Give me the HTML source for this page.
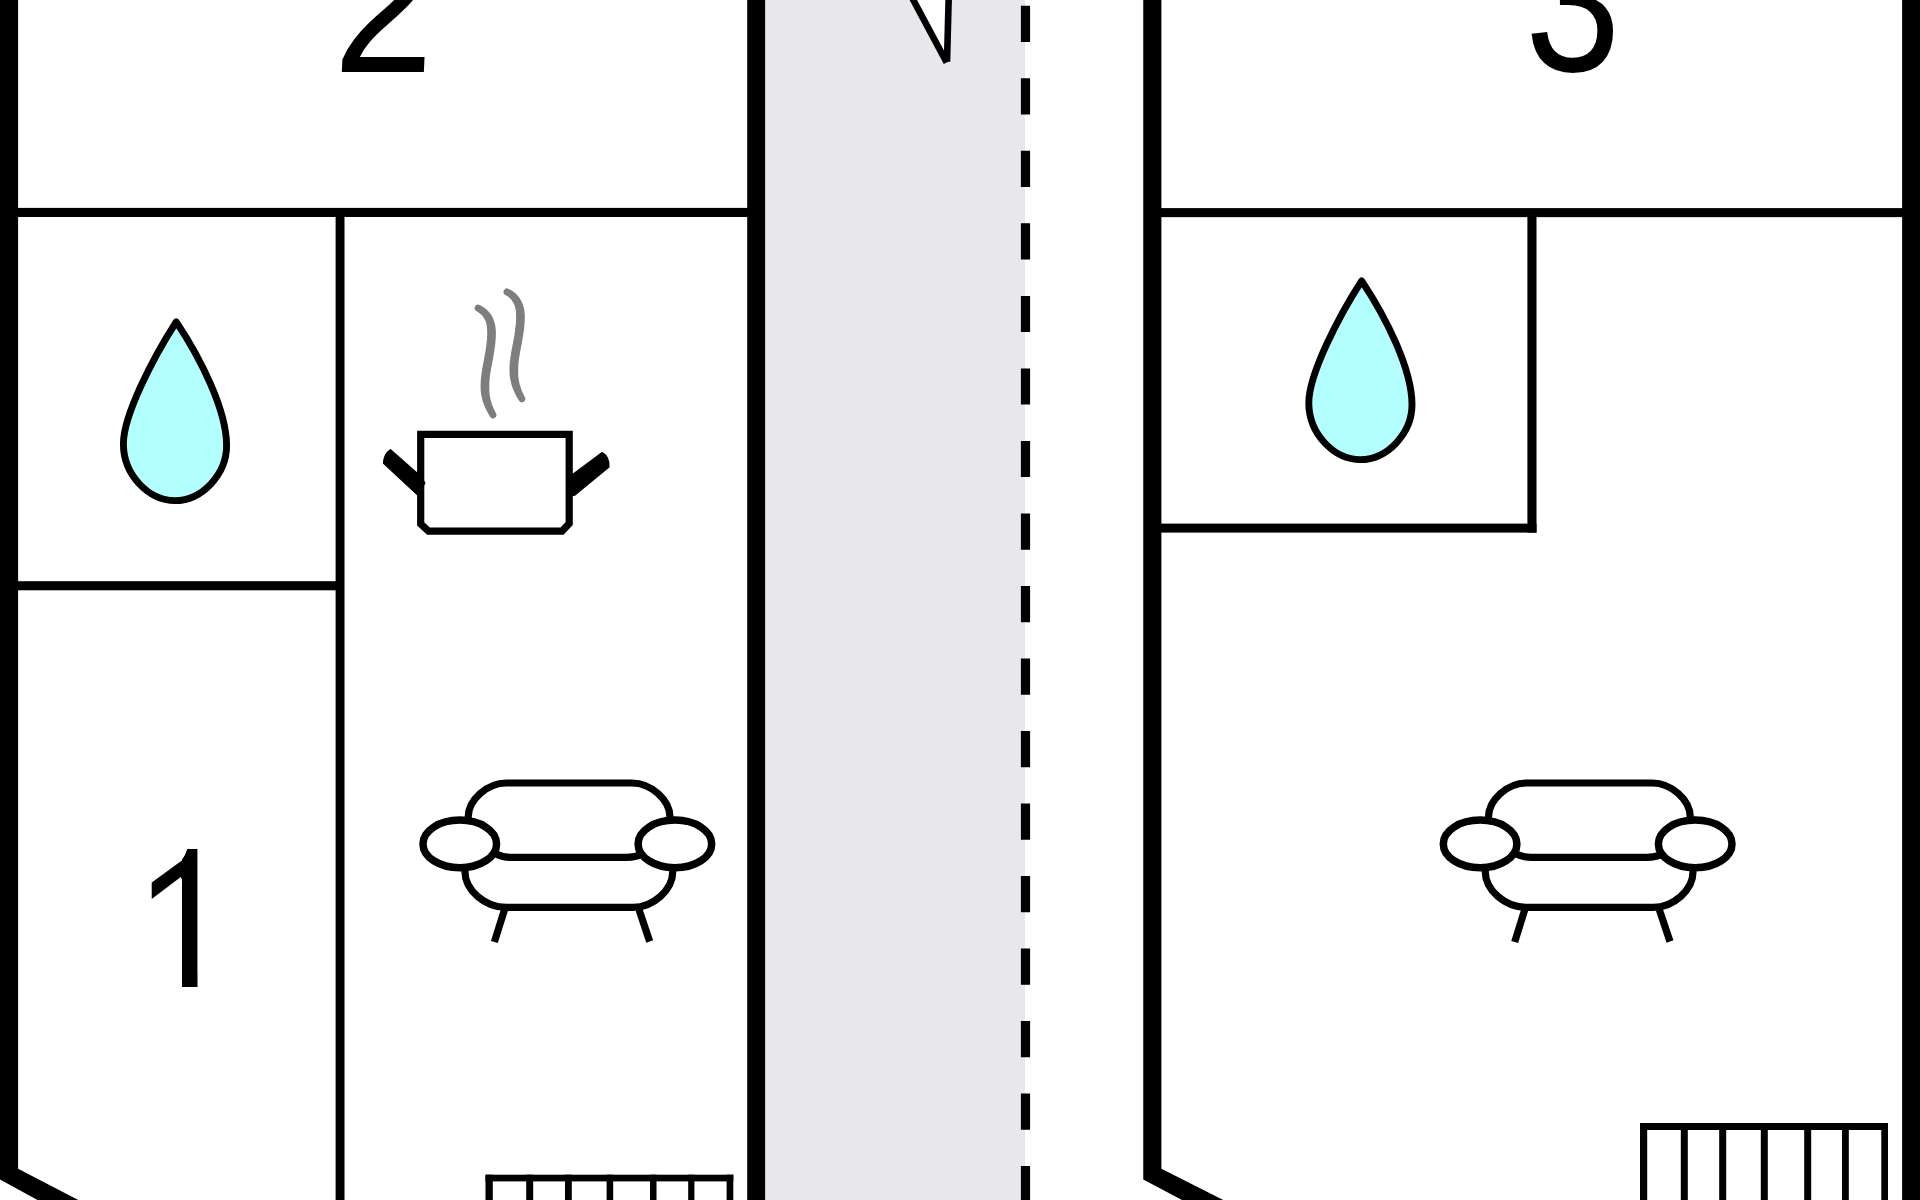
<!DOCTYPE html>
<html lang="en">
<head>
<meta charset="utf-8">
<title>Floor plan</title>
<style>
html,body{margin:0;padding:0;background:#fff;}
body{width:1920px;height:1200px;overflow:hidden;position:relative;}
svg{position:absolute;left:0;top:0;display:block;}
.num{font-family:"Liberation Sans",Arial,Helvetica,sans-serif;font-size:201.4px;fill:#000;}
</style>
</head>
<body>
<svg width="1920" height="1200" viewBox="0 0 1920 1200">
  <rect x="0" y="0" width="1920" height="1200" fill="#ffffff"/>
  <!-- grey corridor -->
  <rect x="765" y="0" width="260" height="1200" fill="#e7e7ec"/>
  <!-- dashed boundary -->
  <line x1="1025.5" y1="5.8" x2="1025.5" y2="1300" stroke="#000" stroke-width="9.2" stroke-dasharray="36.2 36.32"/>
  <!-- north arrow -->
  <g stroke="#000" stroke-width="6.6" stroke-linecap="butt">
    <polygon points="908,-10 946.7,62 949,-10" fill="#fff" stroke="none"/>
    <line x1="948.9" y1="-10" x2="947" y2="61.6"/>
    <line x1="907.96" y1="-10" x2="946.7" y2="62.5"/>
  </g>

  <!-- left building walls -->
  <polygon points="0,0 18.1,0 18.1,1168.75 78.3,1200 37.5,1200 0,1179.6" fill="#000"/>
  <rect x="747.2" y="0" width="17.9" height="1200" fill="#000"/>
  <rect x="17" y="207.9" width="731" height="9.1" fill="#000"/>
  <rect x="335.6" y="212" width="8.9" height="988" fill="#000"/>
  <rect x="17" y="581.2" width="323" height="9.1" fill="#000"/>

  <!-- right building walls -->
  <polygon points="1143.25,0 1161.4,0 1161.4,1168.75 1223.3,1200 1182,1200 1143.25,1179.6" fill="#000"/>
  <rect x="1902.1" y="0" width="18" height="1200" fill="#000"/>
  <rect x="1160" y="208.1" width="743" height="9.05" fill="#000"/>
  <rect x="1527.4" y="212" width="9.1" height="320.6" fill="#000"/>
  <rect x="1160" y="523.6" width="376.5" height="9" fill="#000"/>

  <!-- room numbers -->
  <defs>
    <clipPath id="c1" clipPathUnits="userSpaceOnUse">
      <path d="M140 862 L179.5 862 C183.5 859 186.3 853 187.7 847 L197.5 847 L197.5 988 L182 988 L182 878.6 L140 909.6 Z"/>
    </clipPath>
    <filter id="f1" filterUnits="userSpaceOnUse" x="100" y="800" width="160" height="220" color-interpolation-filters="sRGB">
      <feOffset in="SourceGraphic" dx="0" dy="0" x="182" y="800" width="60" height="220" result="stem"/>
      <feOffset in="SourceGraphic" dx="0" dy="11" x="100" y="800" width="82" height="220" result="flag"/>
      <feMerge><feMergeNode in="stem"/><feMergeNode in="flag"/></feMerge>
    </filter>
  </defs>
  <text class="num" x="0" y="0" transform="translate(332.7 72.1) skewX(-2.6) scale(0.894 1)">2</text>
  <text class="num" x="0" y="0" transform="translate(1525.1 71.3) scale(0.854 1.045)">3</text>
  <g clip-path="url(#c1)"><g filter="url(#f1)"><text class="num" x="0" y="0" transform="translate(133.6 986.6) scale(0.94 1)">1</text></g></g>

  <!-- water drops -->
  <g fill="#b3ffff" stroke="#000" stroke-width="6.9" stroke-linejoin="round">
    <path d="M176.25 321.8 C200.4 357.9 226.6 410 226.6 445.6 C226.6 474.7 201.6 500.6 175 500.6 C148.9 500.6 123.4 475.3 123.4 443.8 C123.4 415.2 153.4 357.1 176.25 321.8 Z"/>
    <path d="M176.25 321.8 C200.4 357.9 226.6 410 226.6 445.6 C226.6 474.7 201.6 500.6 175 500.6 C148.9 500.6 123.4 475.3 123.4 443.8 C123.4 415.2 153.4 357.1 176.25 321.8 Z" transform="translate(1185.4 -41)"/>
  </g>

  <!-- cooking pot -->
  <g>
    <g fill="#7e7e7e" stroke="none">
      <path d="M476.3 311.0 L478.3 312.2 L479.9 313.4 L481.5 314.8 L482.8 316.3 L483.9 318.0 L484.9 319.7 L485.7 321.6 L486.3 323.6 L486.7 325.6 L487.0 327.7 L487.1 329.9 L487.2 332.1 L487.2 334.3 L487.1 336.6 L487.0 339.0 L486.8 341.3 L486.5 343.6 L486.2 345.9 L485.9 348.3 L485.6 350.6 L485.2 353.0 L484.7 355.3 L484.3 357.7 L483.9 360.1 L483.4 362.5 L483.0 364.9 L482.5 367.3 L482.1 369.7 L481.7 372.2 L481.4 374.7 L481.1 377.2 L480.8 379.7 L480.7 382.3 L480.6 384.8 L480.6 387.4 L480.7 390.0 L480.9 392.6 L481.3 395.2 L481.9 397.8 L482.5 400.4 L483.3 402.9 L484.2 405.3 L485.2 407.7 L486.3 410.1 L487.5 412.3 L488.7 414.5 L490.0 416.7 A3.45 3.45 0 0 0 496.0 413.3 L494.9 411.2 L493.9 409.1 L493.0 407.0 L492.2 404.9 L491.5 402.7 L490.8 400.6 L490.3 398.4 L489.9 396.2 L489.6 394.0 L489.4 391.8 L489.3 389.6 L489.3 387.3 L489.3 385.0 L489.4 382.7 L489.5 380.4 L489.7 378.1 L490.0 375.8 L490.3 373.5 L490.7 371.1 L491.1 368.8 L491.5 366.4 L492.0 364.1 L492.4 361.7 L492.9 359.3 L493.3 356.9 L493.7 354.5 L494.1 352.0 L494.5 349.6 L494.9 347.1 L495.2 344.6 L495.4 342.1 L495.6 339.6 L495.8 337.0 L495.9 334.5 L495.9 331.9 L495.7 329.2 L495.4 326.6 L494.9 323.9 L494.1 321.2 L493.1 318.6 L491.9 316.0 L490.3 313.6 L488.5 311.4 L486.5 309.4 L484.3 307.7 L482.0 306.2 L479.7 305.0 A3.45 3.45 0 0 0 476.3 311.0 Z"/>
      <path d="M476.3 311.0 L478.3 312.2 L479.9 313.4 L481.5 314.8 L482.8 316.3 L483.9 318.0 L484.9 319.7 L485.7 321.6 L486.3 323.6 L486.7 325.6 L487.0 327.7 L487.1 329.9 L487.2 332.1 L487.2 334.3 L487.1 336.6 L487.0 339.0 L486.8 341.3 L486.5 343.6 L486.2 345.9 L485.9 348.3 L485.6 350.6 L485.2 353.0 L484.7 355.3 L484.3 357.7 L483.9 360.1 L483.4 362.5 L483.0 364.9 L482.5 367.3 L482.1 369.7 L481.7 372.2 L481.4 374.7 L481.1 377.2 L480.8 379.7 L480.7 382.3 L480.6 384.8 L480.6 387.4 L480.7 390.0 L480.9 392.6 L481.3 395.2 L481.9 397.8 L482.5 400.4 L483.3 402.9 L484.2 405.3 L485.2 407.7 L486.3 410.1 L487.5 412.3 L488.7 414.5 L490.0 416.7 A3.45 3.45 0 0 0 496.0 413.3 L494.9 411.2 L493.9 409.1 L493.0 407.0 L492.2 404.9 L491.5 402.7 L490.8 400.6 L490.3 398.4 L489.9 396.2 L489.6 394.0 L489.4 391.8 L489.3 389.6 L489.3 387.3 L489.3 385.0 L489.4 382.7 L489.5 380.4 L489.7 378.1 L490.0 375.8 L490.3 373.5 L490.7 371.1 L491.1 368.8 L491.5 366.4 L492.0 364.1 L492.4 361.7 L492.9 359.3 L493.3 356.9 L493.7 354.5 L494.1 352.0 L494.5 349.6 L494.9 347.1 L495.2 344.6 L495.4 342.1 L495.6 339.6 L495.8 337.0 L495.9 334.5 L495.9 331.9 L495.7 329.2 L495.4 326.6 L494.9 323.9 L494.1 321.2 L493.1 318.6 L491.9 316.0 L490.3 313.6 L488.5 311.4 L486.5 309.4 L484.3 307.7 L482.0 306.2 L479.7 305.0 A3.45 3.45 0 0 0 476.3 311.0 Z" transform="translate(28.9 -16.1)"/>
    </g>
    <path d="M420.7 434.4 H569.2 V523.5 L562 531.2 H428.5 L420.7 524 Z" fill="#fff"/>
    <path d="M418 474 L390.5 449.8 Q384 453.8 383.6 463.2 L418 495.3 L424.8 483 Z" fill="#000" stroke="#000" stroke-width="1.4" stroke-linejoin="round"/>
    <path d="M572 475 L602.2 452.6 Q609.2 456.6 608.9 466.9 L574.6 495.2 L571 495 Z" fill="#000" stroke="#000" stroke-width="1.4" stroke-linejoin="round"/>
    <path d="M420.7 434.4 H569.2 V523.5 L562 531.2 H428.5 L420.7 524 Z" fill="none" stroke="#000" stroke-width="7.2" stroke-linejoin="miter"/>
  </g>

  <!-- sofas -->
  <g id="sofa" fill="none" stroke="#000" stroke-width="7.2">
    <path d="M468.2 820 V817 C468.2 800 487 783 506.3 783 H632 C651 783 670 800 670 817 V820"/>
    <path d="M496 854 C500 856 505 857.4 511 857.4 H627 C633 857.4 638 856 642 854"/>
    <path d="M465 868 V872 C465 890 485 907.4 506.3 907.4 H633 C653 907.4 672.7 890 672.7 872 V868"/>
    <line x1="504.5" y1="909.6" x2="494.4" y2="942"/>
    <line x1="639" y1="909.6" x2="649.7" y2="941.5"/>
    <ellipse cx="459.8" cy="843.9" rx="36.8" ry="23.8" fill="#fff" stroke-width="7.5"/>
    <ellipse cx="674.9" cy="843.9" rx="36.8" ry="23.8" fill="#fff" stroke-width="7.5"/>
  </g>
  <g fill="none" stroke="#000" stroke-width="7.2" transform="translate(1020.3 0)">
    <path d="M468.2 820 V817 C468.2 800 487 783 506.3 783 H632 C651 783 670 800 670 817 V820"/>
    <path d="M496 854 C500 856 505 857.4 511 857.4 H627 C633 857.4 638 856 642 854"/>
    <path d="M465 868 V872 C465 890 485 907.4 506.3 907.4 H633 C653 907.4 672.7 890 672.7 872 V868"/>
    <line x1="504.5" y1="909.6" x2="494.4" y2="942"/>
    <line x1="639" y1="909.6" x2="649.7" y2="941.5"/>
    <ellipse cx="459.8" cy="843.9" rx="36.8" ry="23.8" fill="#fff" stroke-width="7.5"/>
    <ellipse cx="674.9" cy="843.9" rx="36.8" ry="23.8" fill="#fff" stroke-width="7.5"/>
  </g>

  <!-- stairs -->
  <g fill="#000">
    <rect x="485.5" y="1174.7" width="247.8" height="6.7"/>
    <rect x="485.5" y="1174.7" width="7.3" height="40"/>
    <rect x="526.2" y="1174.7" width="7" height="40"/>
    <rect x="565" y="1174.7" width="6.8" height="40"/>
    <rect x="606.6" y="1174.7" width="6.6" height="40"/>
    <rect x="650" y="1174.7" width="6.5" height="40"/>
    <rect x="688.2" y="1174.7" width="6.2" height="40"/>
    <rect x="726.6" y="1174.7" width="6.7" height="40"/>
  </g>
  <g fill="#000">
    <rect x="1640" y="1123" width="248" height="7"/>
    <rect x="1640" y="1123" width="7.2" height="90"/>
    <rect x="1680.8" y="1123" width="7" height="90"/>
    <rect x="1719.2" y="1123" width="7" height="90"/>
    <rect x="1760.8" y="1123" width="7" height="90"/>
    <rect x="1804.2" y="1123" width="7" height="90"/>
    <rect x="1842" y="1123" width="6.8" height="90"/>
    <rect x="1881.3" y="1123" width="6.7" height="90"/>
  </g>
</svg>
</body>
</html>
